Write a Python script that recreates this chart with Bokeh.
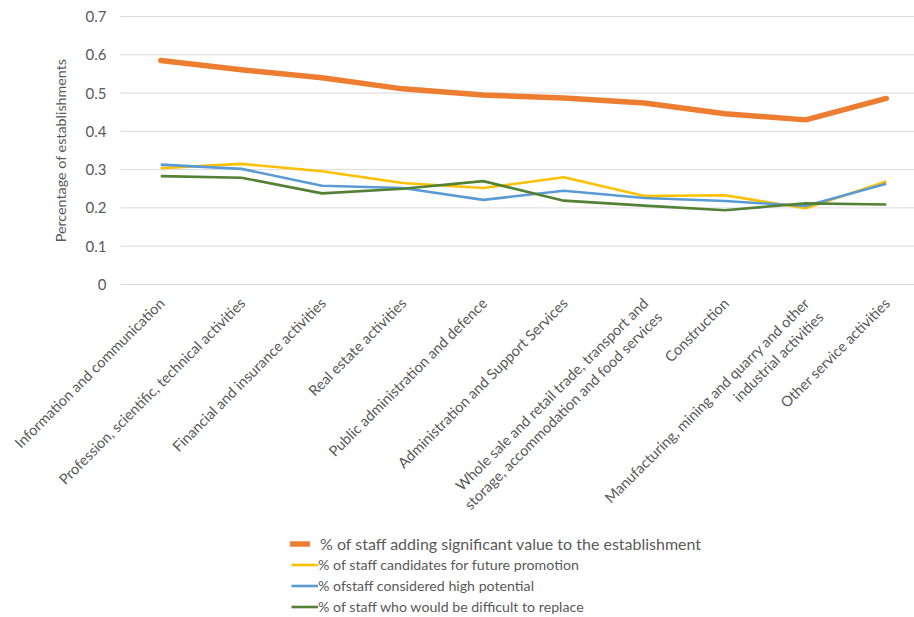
from bokeh.plotting import figure
from bokeh.models import Range1d, Legend, LegendItem, ColumnDataSource
from bokeh.core.properties import value
from bokeh.embed import file_html
from bokeh.resources import INLINE
import math

categories = [
    "Information and communication",
    "Profession, scientific, technical activities",
    "Financial and insurance activities",
    "Real estate activities",
    "Public administration and defence",
    "Administration and Support Services",
    "Whole sale and retail trade, transport and\nstorage, accommodation and food services",
    "Construction",
    "Manufacturing, mining and quarry and other\nindustrial activities",
    "Other service activities",
]
adding_value = [0.585, 0.561, 0.540, 0.511, 0.495, 0.487, 0.474, 0.446, 0.430, 0.486]
future_promotion = [0.304, 0.315, 0.296, 0.265, 0.252, 0.280, 0.231, 0.233, 0.199, 0.269]
high_potential = [0.313, 0.302, 0.258, 0.252, 0.221, 0.245, 0.226, 0.218, 0.205, 0.263]
difficult_replace = [0.283, 0.279, 0.238, 0.250, 0.270, 0.219, 0.206, 0.194, 0.212, 0.209]
y_ticks = [0, 0.1, 0.2, 0.3, 0.4, 0.5, 0.6, 0.7]
y_tick_labels = ["0", "0.1", "0.2", "0.3", "0.4", "0.5", "0.6", "0.7"]
y_title = "Percentage of establishments"

series_names = [
    "% of staff adding significant value to the establishment",
    "% of staff candidates for future promotion",
    "% ofstaff considered high potential",
    "% of staff who would be difficult to replace",
]
series_colors = ["#ED7D31", "#FFC000", "#5B9BD5", "#538135"]
series_widths = [5.5, 2.6, 2.6, 2.6]

FONT = "Lato"
TXT = "#595959"

# layout of the plotting area inside the 914x617 page (pixels)
W, H = 914, 617
PL, PT, PB = 120, 16, 284          # plot-area left, top (0.7) and bottom (0) in page pixels
X0, X1 = -0.5, 9.35                # category axis extent of the plot area
Y0, Y1 = 0.0, 0.7
upp = (X1 - X0) / (W - PL)
vpp = (Y1 - Y0) / (PB - PT)

x = list(range(len(categories)))

p = figure(width=W, height=H, output_backend="svg", toolbar_location=None,
           x_range=Range1d(X0 - PL * upp, X1),
           y_range=Range1d(Y0 - (H - PB) * vpp, Y1 + PT * vpp),
           x_axis_type=None, y_axis_type=None,
           min_border_left=0, min_border_right=0, min_border_top=0, min_border_bottom=0)
p.outline_line_color = None
p.xgrid.grid_line_color = None
p.ygrid.grid_line_color = None

# horizontal gridlines
p.segment(x0=[X0] * len(y_ticks), x1=[X1] * len(y_ticks), y0=y_ticks, y1=y_ticks,
          line_color="#d9d9d9", line_width=1)

# y tick labels
p.text(x=[X0] * len(y_ticks), y=y_ticks, text=y_tick_labels, x_offset=-14,
       text_align="right", text_baseline="middle", text_font=value(FONT),
       text_font_size="15px", text_color=TXT)

# y axis title
p.text(x=[X0], y=[(Y0 + Y1) / 2], text=[y_title], x_offset=-60, angle=math.pi / 2,
       text_align="center", text_baseline="middle", text_font=value(FONT),
       text_font_size="14.3px", text_color=TXT)

# data lines
src = ColumnDataSource(dict(x=x, a=adding_value, b=future_promotion, c=high_potential, d=difficult_replace))
rs = []
for key, col, w in zip(["a", "b", "c", "d"], series_colors, series_widths):
    rs.append(p.line("x", key, source=src, line_color=col, line_width=w,
                     line_cap="round" if key == "a" else "butt", line_join="round"))

# category labels (rotated)
p.text(x=x, y=[Y0] * len(x), text=categories, x_offset=-5, y_offset=10, angle=math.pi / 4,
       text_align="right", text_baseline="top", text_font=value(FONT),
       text_font_size="14.6px", text_color=TXT, text_line_height=1.15)


def make_legend(items, loc, size, glyph_w, standoff):
    lg = Legend(items=items, location=loc, orientation="vertical")
    lg.label_text_font = FONT
    lg.label_text_font_size = size
    lg.label_text_color = TXT
    lg.border_line_color = None
    lg.background_fill_alpha = 0
    lg.glyph_width = glyph_w
    lg.glyph_height = 19
    lg.label_height = 19
    lg.spacing = 2
    lg.padding = 0
    lg.label_standoff = standoff
    lg.margin = 0
    return lg


items = [LegendItem(label=n, renderers=[r]) for n, r in zip(series_names, rs)]
p.add_layout(make_legend(items[:1], (290, 64), "16px", 20, 10), "center")
p.add_layout(make_legend(items[1:], (291, 1), "14.2px", 27, 0), "center")

open("out.html", "w").write(file_html(p, INLINE))
